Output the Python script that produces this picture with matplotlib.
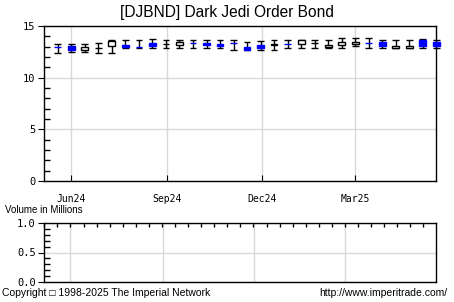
import numpy as np
import pandas as pd
import matplotlib
matplotlib.use("Agg")
import matplotlib.pyplot as plt
import matplotlib.dates as mdates
from matplotlib.ticker import MultipleLocator, FixedLocator, FormatStrFormatter

######################## data ########################
dates = pd.date_range("2024-05-19", periods=29, freq="13D")
opens = [12.92, 12.71, 12.99, 12.90, 13.55, 12.97, 12.96, 13.06, 13.30, 13.49,
         13.34, 13.13, 13.06, 13.34, 12.71, 12.90, 13.21, 13.28, 13.61, 13.36,
         13.13, 13.45, 13.45, 13.34, 13.06, 13.06, 13.06, 13.06, 13.06]
highs = [13.29, 13.29, 13.29, 13.35, 13.68, 13.68, 13.68, 13.78, 13.68, 13.68,
         13.68, 13.68, 13.68, 13.68, 13.45, 13.52, 13.61, 13.68, 13.68, 13.68,
         13.68, 13.87, 13.87, 13.87, 13.68, 13.68, 13.68, 13.78, 13.68]
lows = [12.42, 12.48, 12.48, 12.42, 12.42, 12.87, 12.87, 12.87, 12.87, 12.87,
        12.87, 12.87, 12.87, 12.65, 12.65, 12.65, 12.65, 12.87, 12.87, 12.87,
        12.87, 12.87, 13.06, 12.87, 12.87, 12.87, 12.87, 12.87, 12.87]
closes = [12.97, 13.03, 12.68, 12.89, 13.06, 13.13, 12.98, 13.35, 13.28, 13.20,
          13.36, 13.35, 13.29, 13.36, 12.97, 13.13, 13.19, 13.30, 13.29, 13.34,
          12.97, 13.13, 13.29, 13.36, 13.45, 12.90, 12.90, 13.61, 13.45]
quarters = pd.to_datetime(["2024-06-01", "2024-09-01", "2024-12-01", "2025-03-01"])
vol_ticks = pd.date_range("2024-05-06", "2025-05-30", freq="13D")

title = "[DJBND] Dark Jedi Order Bond"
vol_label = "Volume in Millions"
footer_left = "Copyright \u25a1 1998-2025 The Imperial Network"
footer_right = "http://www.imperitrade.com/"

GRID = "#d9d9d9"
BLUE = "#0000ff"
mono = "DejaVu Sans Mono"
sans = ["Liberation Sans", "DejaVu Sans"]

fig = plt.figure(figsize=(4.54, 3.02), dpi=100)

# -------------------------
# price panel
# -------------------------
ax = fig.add_axes([44 / 454, 1 - 181 / 302, 392 / 454, 155 / 302])
x = mdates.date2num(dates)
w = 6.5
for xi, o, h, l, c in zip(x, opens, highs, lows, closes):
    ax.vlines(xi, l, h, color="black", lw=1, zorder=2, clip_on=False)
    ax.hlines([l, h], xi - w / 2, xi + w / 2, color="black", lw=1, zorder=2, clip_on=False)
    if c >= o:
        ax.bar(xi, c - o, bottom=o, width=w, facecolor=BLUE, edgecolor=BLUE,
               lw=1, zorder=3, clip_on=False)
    else:
        ax.bar(xi, o - c, bottom=c, width=w, facecolor="white", edgecolor="black",
               lw=1, zorder=3, clip_on=False)

ax.set_xlim(mdates.date2num(pd.Timestamp("2024-05-05 18:00")),
            mdates.date2num(pd.Timestamp("2025-05-17 16:00")))
ax.set_ylim(0, 15)
ax.xaxis.set_major_locator(FixedLocator(mdates.date2num(quarters)))
ax.xaxis.set_major_formatter(mdates.DateFormatter("%b%y"))
ax.yaxis.set_major_locator(MultipleLocator(5))
ax.yaxis.set_minor_locator(MultipleLocator(1))
ax.grid(True, which="major", color=GRID, lw=1)
ax.set_axisbelow(True)
ax.tick_params(axis="x", which="major", direction="in", length=4, pad=9,
               labelsize=7, color="black")
ax.tick_params(axis="y", which="major", direction="out", length=4, pad=2, labelsize=7.5)
ax.tick_params(axis="y", which="minor", direction="in", length=4, width=1)
for lab in ax.get_xticklabels() + ax.get_yticklabels():
    lab.set_family(mono)
for s in ax.spines.values():
    s.set_linewidth(1)

# -------------------------
# volume panel (empty)
# -------------------------
vx = fig.add_axes([44.3 / 454, 1 - 282.3 / 302, 391.4 / 454, 59.6 / 302])
vx.set_xlim(mdates.date2num(pd.Timestamp("2024-05-06 12:00")),
            mdates.date2num(pd.Timestamp("2025-05-30 05:00")))
vx.set_ylim(0, 1)
vx.grid(True, axis="y", which="major", color=GRID, lw=1)
for q in mdates.date2num(quarters):
    vx.axvline(q, color=GRID, lw=1, zorder=0)
vx.xaxis.set_ticks_position("top")
vx.set_xticks(mdates.date2num(vol_ticks))
vx.tick_params(axis="x", which="major", direction="in", length=3, width=1,
               labeltop=False, labelbottom=False, color="black")
vx.yaxis.set_major_locator(MultipleLocator(0.5))
vx.yaxis.set_minor_locator(MultipleLocator(0.1))
vx.yaxis.set_major_formatter(FormatStrFormatter("%.1f"))
vx.set_axisbelow(True)
vx.tick_params(axis="y", which="major", direction="out", length=4, pad=2, labelsize=7.5)
vx.tick_params(axis="y", which="minor", direction="in", length=4, width=1)
for lab in vx.get_yticklabels():
    lab.set_family(mono)
for s in vx.spines.values():
    s.set_linewidth(1)

# texts
fig.text(0.499, 1 - 12 / 302, title, ha="center", va="center", fontsize=11.2, family=sans)
fig.text(5 / 454, 1 - 210 / 302, vol_label, ha="left", va="center", fontsize=7, family=sans)
fig.text(2 / 454, 1 - 293 / 302, footer_left, ha="left", va="center", fontsize=7.5, family=sans)
fig.text(447 / 454, 1 - 293 / 302, footer_right, ha="right", va="center", fontsize=7.5, family=sans)

fig.savefig("out.png", dpi=100, facecolor="white")
